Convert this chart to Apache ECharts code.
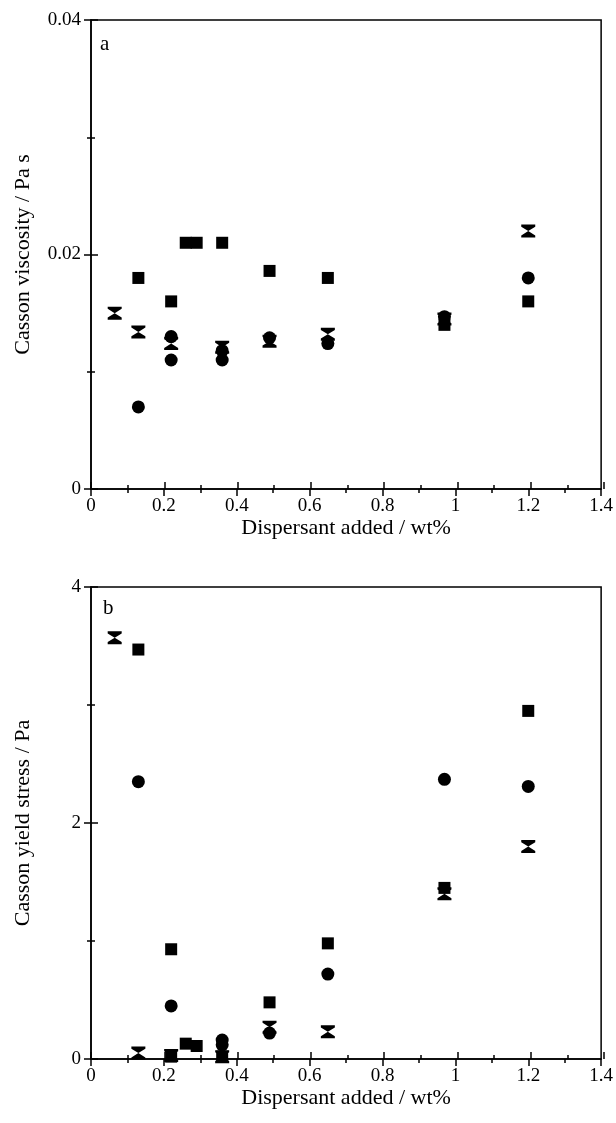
<!DOCTYPE html>
<html>
<head>
<meta charset="utf-8">
<script src="https://cdn.jsdelivr.net/npm/echarts@6/dist/echarts.min.js"></script>
<style>
  html, body { margin: 0; padding: 0; background: #fff; }
  #main { width: 616px; height: 1123px; }
</style>
</head>
<body>
<div id="main"></div>
<script>
// panel a: Casson viscosity (Pa s) vs dispersant added (wt%)
var viscSquare = [[0.13, 0.018], [0.22, 0.016], [0.26, 0.021], [0.29, 0.021], [0.36, 0.021],
    [0.49, 0.0186], [0.65, 0.018], [0.97, 0.014], [1.2, 0.016]];
var viscCircle = [[0.13, 0.007], [0.22, 0.013], [0.22, 0.011], [0.36, 0.0118], [0.36, 0.011],
    [0.49, 0.0129], [0.65, 0.0124], [0.97, 0.0147], [1.2, 0.018]];
var viscBowtie = [[0.065, 0.015], [0.13, 0.0134], [0.22, 0.0124], [0.36, 0.0121],
    [0.49, 0.0126], [0.65, 0.0132], [0.97, 0.0145], [1.2, 0.022]];

// panel b: Casson yield stress (Pa)
var yieldSquare = [[0.13, 3.47], [0.22, 0.93], [0.22, 0.02], [0.26, 0.13], [0.29, 0.11], [0.36, 0.02],
    [0.49, 0.48], [0.65, 0.98], [0.97, 1.45], [1.2, 2.95]];
var yieldCircle = [[0.13, 2.35], [0.22, 0.45], [0.36, 0.16], [0.36, 0.12], [0.49, 0.22],
    [0.65, 0.72], [0.97, 2.37], [1.2, 2.31]];
var yieldBowtie = [[0.065, 3.57], [0.13, 0.05], [0.22, 0.03], [0.36, 0.02], [0.49, 0.27],
    [0.65, 0.23], [0.97, 1.40], [1.2, 1.80]];

var xMin = 0, xMax = 1.4, xStep = 0.2;
var viscMax = 0.04, viscStep = 0.02;
var yieldMax = 4, yieldStep = 2;

var font = 'Liberation Serif';
// hourglass: flat top/bottom bars narrowing to a point in the middle
var bowtie = 'path://M0,0L12,0L12,2L6,6L12,10L12,12L0,12L0,10L6,6L0,2Z';

var myChart = echarts.init(document.getElementById('main'));

function grid(top, height, border) {
    return {
        left: 91, right: 12, top: top, height: height,
        show: border, borderColor: '#000', borderWidth: 1.5,
        backgroundColor: 'transparent'
    };
}

// main axis (outward ticks + labels) and an overlay axis (inward ticks) -> crossing ticks
function xAxisMain(gi, name) {
    return {
        type: 'value', gridIndex: gi, min: xMin, max: xMax, interval: xStep,
        name: name, nameLocation: 'middle', nameGap: 26,
        nameTextStyle: {fontFamily: font, fontSize: 22, color: '#000', verticalAlign: 'top'},
        axisLine: {lineStyle: {color: '#000', width: 1.5}},
        axisTick: {length: 7, lineStyle: {color: '#000', width: 1.5}},
        minorTick: {show: true, splitNumber: 2, length: 4, lineStyle: {color: '#000', width: 1.5}},
        axisLabel: {fontFamily: font, fontSize: 19, color: '#000', margin: 8},
        splitLine: {show: false}
    };
}
function xAxisIn(gi) {
    return {
        type: 'value', gridIndex: gi, min: xMin, max: xMax, interval: xStep,
        axisLine: {show: false},
        axisTick: {inside: true, length: 7, lineStyle: {color: '#000', width: 1.5}},
        minorTick: {show: true, splitNumber: 2, length: 4, lineStyle: {color: '#000', width: 1.5}},
        axisLabel: {show: false},
        splitLine: {show: false}
    };
}
function yAxisMain(gi, max, step, name) {
    return {
        type: 'value', gridIndex: gi, min: 0, max: max, interval: step,
        name: name, nameLocation: 'middle', nameGap: 57,
        nameTextStyle: {fontFamily: font, fontSize: 22, color: '#000'},
        axisLine: {lineStyle: {color: '#000', width: 1.5}},
        axisTick: {length: 7, lineStyle: {color: '#000', width: 1.5}},
        minorTick: {show: true, splitNumber: 2, length: 4, lineStyle: {color: '#000', width: 1.5}},
        axisLabel: {fontFamily: font, fontSize: 19, color: '#000', margin: 10},
        splitLine: {show: false}
    };
}
function yAxisIn(gi, max, step) {
    return {
        type: 'value', gridIndex: gi, min: 0, max: max, interval: step,
        axisLine: {show: false},
        axisTick: {inside: true, length: 7, lineStyle: {color: '#000', width: 1.5}},
        minorTick: {show: true, splitNumber: 2, length: 4, lineStyle: {color: '#000', width: 1.5}},
        axisLabel: {show: false},
        splitLine: {show: false}
    };
}
function pts(name, idx, data, symbol, size) {
    return {
        name: name, type: 'scatter', xAxisIndex: idx, yAxisIndex: idx,
        data: data, symbol: symbol, symbolSize: size,
        itemStyle: {color: '#000', opacity: 1}, silent: true
    };
}

var option = {
    backgroundColor: '#fff',
    animation: false,
    title: [
        {text: 'a', left: 95, top: 29, textStyle: {fontFamily: font, fontSize: 21, fontWeight: 'normal', color: '#000'}},
        {text: 'b', left: 98, top: 593, textStyle: {fontFamily: font, fontSize: 21, fontWeight: 'normal', color: '#000'}}
    ],
    grid: [grid(20, 469, true), grid(20, 469, false), grid(587, 472, true), grid(587, 472, false)],
    xAxis: [
        xAxisMain(0, 'Dispersant added / wt%'), xAxisIn(1),
        xAxisMain(2, 'Dispersant added / wt%'), xAxisIn(3)
    ],
    yAxis: [
        yAxisMain(0, viscMax, viscStep, 'Casson viscosity / Pa s'), yAxisIn(1, viscMax, viscStep),
        yAxisMain(2, yieldMax, yieldStep, 'Casson yield stress / Pa'), yAxisIn(3, yieldMax, yieldStep)
    ],
    series: [
        pts('square a', 0, viscSquare, 'rect', 12),
        pts('circle a', 0, viscCircle, 'circle', 13),
        pts('bowtie a', 0, viscBowtie, bowtie, [14, 13]),
        pts('square b', 2, yieldSquare, 'rect', 12),
        pts('circle b', 2, yieldCircle, 'circle', 13),
        pts('bowtie b', 2, yieldBowtie, bowtie, [14, 13])
    ]
};
myChart.setOption(option);
</script>
</body>
</html>
